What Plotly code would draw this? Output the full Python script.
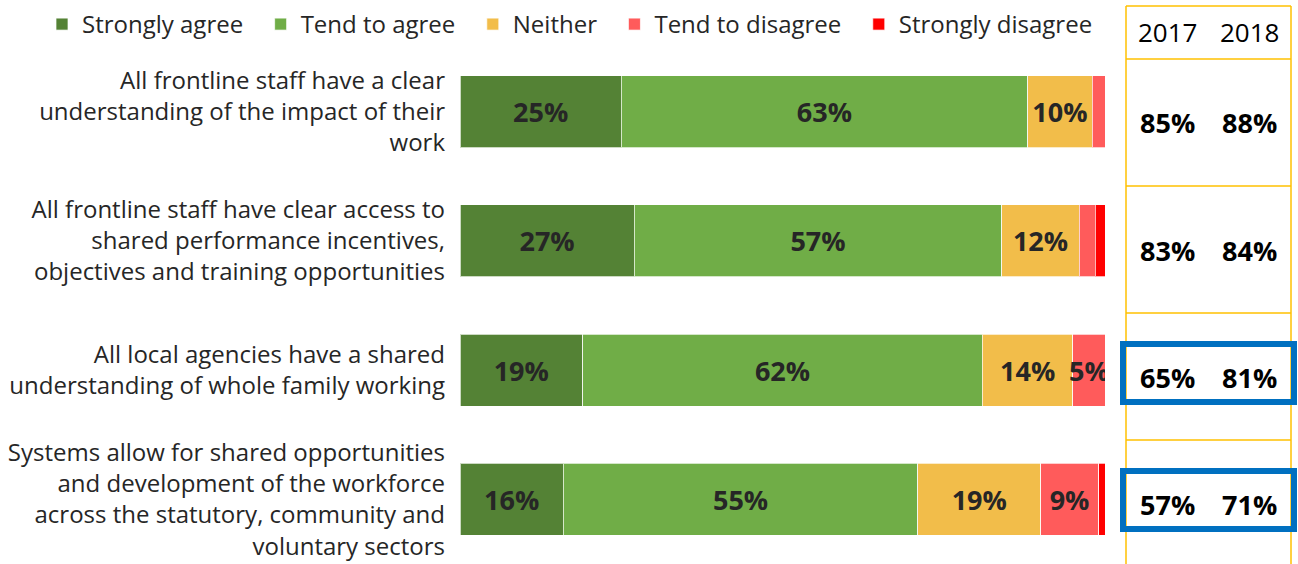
import plotly.graph_objects as go

# Survey statements (top to bottom)
statements = [
    "All frontline staff have a clear<br>understanding of the impact of their<br>work",
    "All frontline staff have clear access to<br>shared performance incentives,<br>objectives and training opportunities",
    "All local agencies have a shared<br>understanding of whole family working",
    "Systems allow for shared opportunities<br>and development of the workforce<br>across the statutory, community and<br>voluntary sectors",
]

# Response shares (%) for 2018
strongly_agree = [25, 27, 19, 16]
tend_to_agree = [63, 57, 62, 55]
neither = [10, 12, 14, 19]
tend_to_disagree = [2, 2.5, 5, 9]
strongly_disagree = [0, 1.5, 0, 1]

# Agreement totals by year
years = ["2017", "2018"]
agree_2017 = [85, 83, 65, 57]
agree_2018 = [88, 84, 81, 71]
highlight = [False, False, True, True]

series = [
    ("Strongly agree", strongly_agree, "#548235"),
    ("Tend to agree", tend_to_agree, "#70AD47"),
    ("Neither", neither, "#F2BD4A"),
    ("Tend to disagree", tend_to_disagree, "#FF5B5B"),
    ("Strongly disagree", strongly_disagree, "#FF0000"),
]

W, H = 1298, 564
M_T = 47
FONT = "Open Sans"
PAD = "\u00a0\u00a0"  # extra gap between legend entries


def px_x(x):
    return x / W


def px_y(y):
    return (H - y) / (H - M_T)


fig = go.Figure()
for name, vals, color in series:
    fig.add_trace(go.Bar(
        name=name + PAD,
        y=statements,
        x=vals,
        orientation="h",
        marker=dict(color=color, line=dict(color="rgba(255,255,255,0.7)", width=1)),
        text=[f"{v:g}%" if v >= 5 else "" for v in vals],
        textposition="inside",
        insidetextanchor="middle",
        constraintext="none",
        textangle=0,
        textfont=dict(family=FONT, size=27, color="#262626", weight="bold"),
        hoverinfo="skip",
    ))

shapes = []
annotations = []
gold = "#FFC000"
tx0, tx1 = 1126, 1291
# table frame
for vx in (tx0, tx1):
    shapes.append(dict(type="line", xref="paper", yref="paper", x0=px_x(vx), x1=px_x(vx),
                       y0=px_y(6), y1=px_y(H), line=dict(color=gold, width=1.5)))
for ly in [6, 59, 186, 313, 440]:
    shapes.append(dict(type="line", xref="paper", yref="paper", x0=px_x(tx0), x1=px_x(tx1),
                       y0=px_y(ly), y1=px_y(ly), line=dict(color=gold, width=1.5)))

col_x = [1167, 1249]
for yr, cx in zip(years, col_x):
    annotations.append(dict(text=yr, x=px_x(cx), y=px_y(32), xref="paper", yref="paper",
                            xanchor="center", yanchor="middle", showarrow=False,
                            font=dict(family=FONT, size=26, color="#000000")))

row_y = [123, 250, 377, 504]
for i, ry in enumerate(row_y):
    for vals, cx in zip([agree_2017, agree_2018], col_x):
        annotations.append(dict(text=f"{vals[i]}%", x=px_x(cx), y=px_y(ry), xref="paper",
                                yref="paper", xanchor="center", yanchor="middle",
                                showarrow=False,
                                font=dict(family=FONT, size=27, color="#000000", weight="bold")))
    if highlight[i]:
        shapes.append(dict(type="rect", xref="paper", yref="paper",
                           x0=px_x(1123), x1=px_x(1294), y0=px_y(ry - 33), y1=px_y(ry + 25),
                           line=dict(color="#0070C0", width=6)))

fig.update_layout(
    barmode="stack",
    bargap=0.443,
    width=W,
    height=H,
    margin=dict(l=0, r=0, t=M_T, b=0),
    paper_bgcolor="white",
    plot_bgcolor="white",
    font=dict(family=FONT, size=24, color="#262626"),
    shapes=shapes,
    annotations=annotations,
    showlegend=True,
    legend=dict(orientation="h", x=px_x(42), y=px_y(2), xanchor="left", yanchor="top",
                font=dict(family=FONT, size=24, color="#262626"), traceorder="normal",
                itemclick=False, itemdoubleclick=False),
    xaxis=dict(domain=[px_x(460), px_x(1105)], range=[0, 100], visible=False, fixedrange=True),
    yaxis=dict(autorange="reversed", automargin=False, showgrid=False, zeroline=False,
               showline=False, ticks="", ticklabelstandoff=14,
               tickfont=dict(family=FONT, size=24, color="#262626"), fixedrange=True),
)

fig.write_html("out.html")
